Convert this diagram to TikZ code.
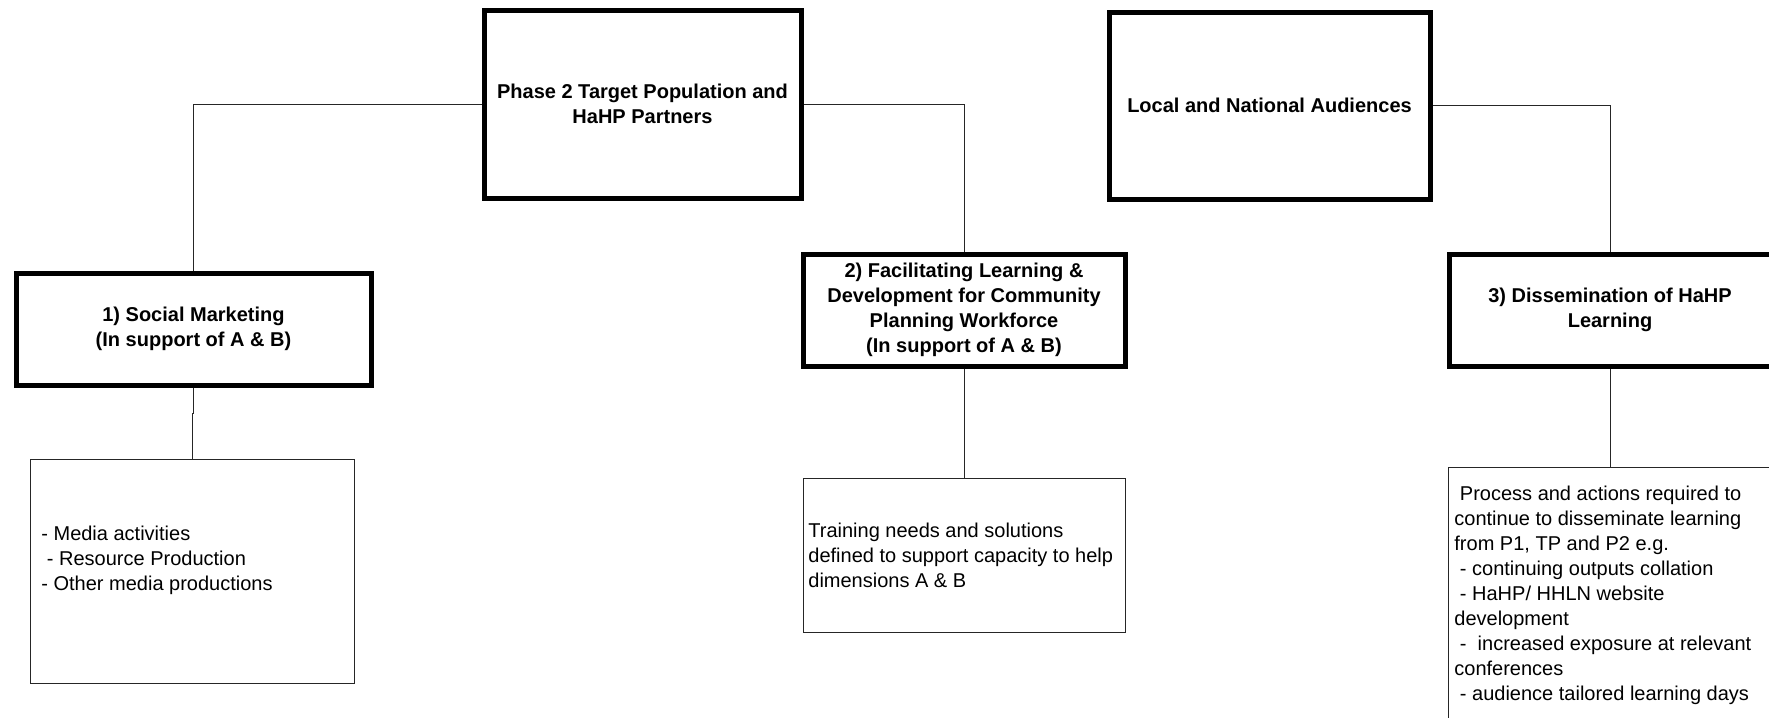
\documentclass[tikz,border=0pt]{standalone}
\usepackage{fontspec}
\setmainfont{Liberation Sans}
\begin{document}
\begin{tikzpicture}[x=0.5pt,y=-0.5pt,
  thickbox/.style={draw=black,line width=2.5pt,align=center,inner sep=2pt,
    font=\fontsize{10}{12.5}\selectfont\bfseries},
  thinbox/.style={draw=black!85,line width=0.5pt,inner sep=0pt},
  bodytext/.style={anchor=north west,inner sep=0pt,align=left,
    font=\fontsize{10}{12.5}\selectfont},
  link/.style={draw=black!85,line width=0.5pt}]
\clip (0,0) rectangle (1769,718);
\fill[white] (0,0) rectangle (1769,718);

\node[thickbox,minimum width=158.5pt,minimum height=94pt] (p2) at (642.5,104)
  {Phase 2 Target Population and\\HaHP Partners};
\node[thickbox,minimum width=160.5pt,minimum height=93.5pt] (lna) at (1269.5,105.5)
  {Local and National Audiences};
\node[thickbox,minimum width=177.5pt,minimum height=56pt] (sm) at (193.5,329)
  {1) Social Marketing\\(In support of A \& B)};
\node[thickbox,minimum width=161pt,minimum height=56pt] (fl) at (964,310)
  {2) Facilitating Learning \&\\Development for Community\\Planning Workforce\\(In support of A \& B)};
\node[thickbox,minimum width=161pt,minimum height=56pt] (dh) at (1610,310)
  {3) Dissemination of HaHP\\Learning};

\node[thinbox,minimum width=162pt,minimum height=112pt] (media) at (192,571) {};
\node[thinbox,minimum width=161pt,minimum height=77pt] (train) at (964,555) {};
\node[thinbox,minimum width=162pt,minimum height=136.5pt] (proc) at (1610,603.5) {};

\node[bodytext] (mediatxt) at (41,526)
  {- Media activities\\\hspace*{0.278em}- Resource Production\\- Other media productions};
\node[bodytext] (traintxt) at (808,523)
  {Training needs and solutions\\defined to support capacity to help\\dimensions A \& B};
\node[bodytext] (proctxt) at (1454,486)
  {\hspace*{0.278em}Process and actions required to\\continue to disseminate learning\\from P1, TP and P2 e.g.\\\hspace*{0.278em}- continuing outputs collation\\\hspace*{0.278em}- HaHP/ HHLN website\\development\\\hspace*{0.278em}-\hspace*{0.556em}increased exposure at relevant\\conferences\\\hspace*{0.278em}- audience tailored learning days};

\draw[link] (p2.west) -| (sm.north);
\draw[link] (p2.east) -| (fl.north);
\draw[link] (lna.east) -| (dh.north);
\draw[link] (sm.south) -- ++(0,26) -| (media.north);
\draw[link] (fl.south) -- (train.north);
\draw[link] (dh.south) -- (proc.north);
\end{tikzpicture}
\end{document}
